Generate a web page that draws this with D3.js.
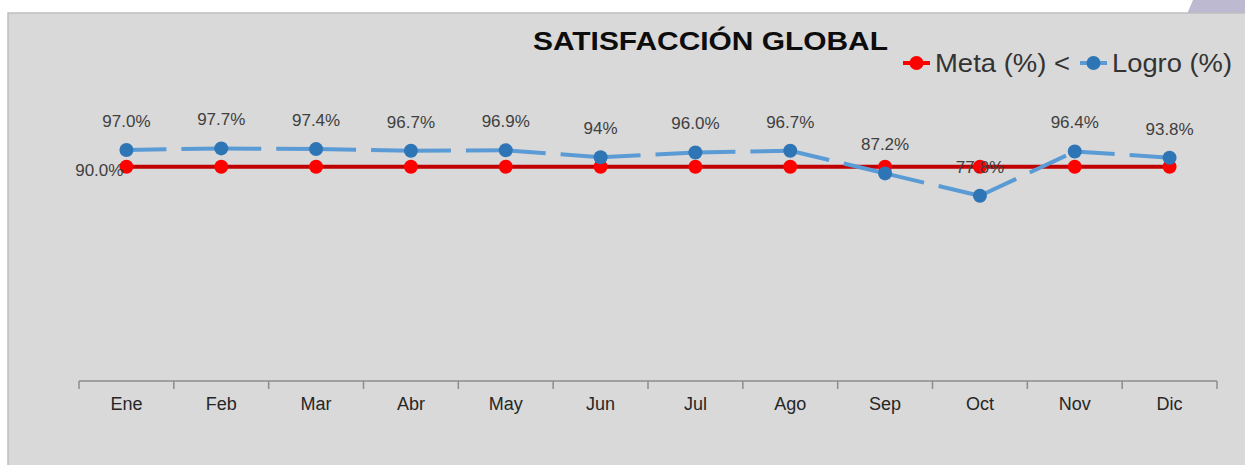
<!DOCTYPE html>
<html>
<head>
<meta charset="utf-8">
<script src="https://cdn.jsdelivr.net/npm/d3@7"></script>
<style>
  body { margin: 0; background: #ffffff; }
  svg { display: block; }
  text { font-family: "Liberation Sans", Arial, sans-serif; }
</style>
</head>
<body>
<div id="chart"></div>
<script>
// datos del gráfico
const months = ["Ene", "Feb", "Mar", "Abr", "May", "Jun", "Jul", "Ago", "Sep", "Oct", "Nov", "Dic"];
const meta = [90, 90, 90, 90, 90, 90, 90, 90, 90, 90, 90, 90];
const logro = [97.0, 97.7, 97.4, 96.7, 96.9, 94, 96.0, 96.7, 87.2, 77.8, 96.4, 93.8];
const logroLabels = ["97.0%", "97.7%", "97.4%", "96.7%", "96.9%", "94%", "96.0%", "96.7%", "87.2%", "77.8%", "96.4%", "93.8%"];
const metaLabel = "90.0%";

const width = 1245, height = 465;
const plot = { left: 79, right: 1217, top: 95.3, bottom: 381 };

const svg = d3.select("#chart").append("svg")
  .attr("width", width)
  .attr("height", height);

// fondo y panel gris
svg.append("polygon")
  .attr("points", "1193,0 1245,0 1245,14 1187,14")
  .attr("fill", "#bdb9d1");
svg.append("rect")
  .attr("x", 8).attr("y", 13)
  .attr("width", width + 10).attr("height", height + 10)
  .attr("fill", "#d9d9d9")
  .attr("stroke", "#bfbfbf")
  .attr("stroke-width", 1.5);

const xScale = d3.scaleBand()
  .domain(months)
  .range([plot.left, plot.right])
  .padding(0);
const yScale = d3.scaleLinear()
  .domain([0, 120])
  .range([plot.bottom, plot.top]);
const cx = (m) => xScale(m) + xScale.bandwidth() / 2;

// eje x
const xAxis = svg.append("g")
  .attr("transform", "translate(0," + plot.bottom + ")")
  .call(d3.axisBottom(xScale).tickSize(0).tickPadding(16));
xAxis.select(".domain").remove();
xAxis.selectAll("text")
  .attr("font-family", "Liberation Sans, Arial, sans-serif")
  .attr("font-size", "18px")
  .attr("fill", "#262626");

svg.append("line")
  .attr("x1", plot.left).attr("x2", plot.right)
  .attr("y1", plot.bottom).attr("y2", plot.bottom)
  .attr("stroke", "#8c8c8c")
  .attr("stroke-width", 1.5);
const tickPos = months.map((m) => xScale(m)).concat([plot.right]);
svg.append("g").selectAll("line")
  .data(tickPos)
  .enter()
  .append("line")
  .attr("x1", (d) => d).attr("x2", (d) => d)
  .attr("y1", plot.bottom).attr("y2", plot.bottom + 8)
  .attr("stroke", "#8c8c8c")
  .attr("stroke-width", 1.5);

// línea meta
const line = d3.line()
  .x((d, i) => cx(months[i]))
  .y((d) => yScale(d));
svg.append("path")
  .attr("d", line(meta))
  .attr("fill", "none")
  .attr("stroke", "#c00000")
  .attr("stroke-width", 4);

// línea logro, discontinua por segmento (como Excel)
const segs = d3.pairs(logro.map((v, i) => [cx(months[i]), yScale(v)]));
svg.append("g").selectAll("line")
  .data(segs)
  .enter()
  .append("line")
  .attr("x1", (d) => d[0][0]).attr("y1", (d) => d[0][1])
  .attr("x2", (d) => d[1][0]).attr("y2", (d) => d[1][1])
  .attr("stroke", "#5b9bd5")
  .attr("stroke-width", 4)
  .attr("stroke-dasharray", "40 15");

// marcadores
svg.append("g").selectAll("circle")
  .data(meta)
  .enter()
  .append("circle")
  .attr("cx", (d, i) => cx(months[i]))
  .attr("cy", (d) => yScale(d))
  .attr("r", 7)
  .attr("fill", "#ff0000");
svg.append("g").selectAll("circle")
  .data(logro)
  .enter()
  .append("circle")
  .attr("cx", (d, i) => cx(months[i]))
  .attr("cy", (d) => yScale(d))
  .attr("r", 7)
  .attr("fill", "#2e75b6");

// etiquetas de datos
svg.append("g").selectAll("text")
  .data(logro)
  .enter()
  .append("text")
  .attr("x", (d, i) => cx(months[i]))
  .attr("y", (d) => yScale(d) - 23)
  .attr("text-anchor", "middle")
  .attr("font-size", "17px")
  .attr("fill", "#404040")
  .text((d, i) => logroLabels[i]);
svg.append("text")
  .attr("x", cx(months[0]) - 3)
  .attr("y", yScale(meta[0]) + 9)
  .attr("text-anchor", "end")
  .attr("font-size", "17px")
  .attr("fill", "#404040")
  .text(metaLabel);

// título
svg.append("text")
  .attr("x", 533)
  .attr("y", 50)
  .attr("font-size", "25px")
  .attr("font-weight", "bold")
  .attr("fill", "#0d0d0d")
  .attr("textLength", 355)
  .attr("lengthAdjust", "spacingAndGlyphs")
  .text("SATISFACCIÓN GLOBAL");

// leyenda
const legend = [
  { name: "Meta (%) <", color: "#ff0000", lineColor: "#ff0000", x: 903, len: 135 },
  { name: "Logro (%)", color: "#2e75b6", lineColor: "#5b9bd5", x: 1080, len: 120 }
];
const lg = svg.append("g").selectAll("g")
  .data(legend)
  .enter()
  .append("g");
lg.append("line")
  .attr("x1", (d) => d.x).attr("x2", (d) => d.x + 27)
  .attr("y1", 63).attr("y2", 63)
  .attr("stroke", (d) => d.lineColor)
  .attr("stroke-width", 4);
lg.append("circle")
  .attr("cx", (d) => d.x + 13.5)
  .attr("cy", 63)
  .attr("r", 7)
  .attr("fill", (d) => d.color);
lg.append("text")
  .attr("x", (d) => d.x + 32)
  .attr("y", 72)
  .attr("font-size", "25px")
  .attr("fill", "#333333")
  .attr("textLength", (d) => d.len)
  .attr("lengthAdjust", "spacingAndGlyphs")
  .text((d) => d.name);
</script>
</body>
</html>
